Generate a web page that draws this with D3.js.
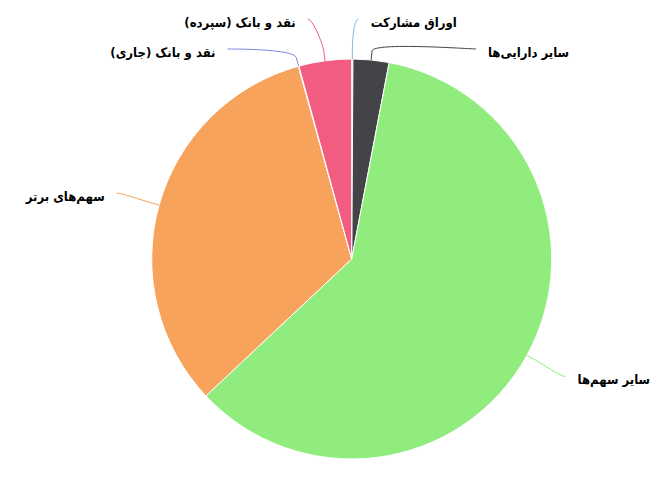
<!DOCTYPE html>
<html>
<head>
<meta charset="utf-8">
<script src="https://cdn.jsdelivr.net/npm/d3@7"></script>
<style>
  body { margin: 0; background: #fff; }
  text { font-family: "DejaVu Sans Condensed", "DejaVu Sans", sans-serif; }
</style>
</head>
<body>
<div id="chart"></div>
<script>
// data
var labels = ["اوراق مشارکت", "سایر دارایی\u200cها", "سایر سهم\u200cها", "سهم\u200cهای برتر", "نقد و بانک (جاری)", "نقد و بانک (سپرده)"];
var values = [0.1, 2.9, 60.0, 32.7, 0.05, 4.25];
var colors = ["#7cb5ec", "#434348", "#90ed7d", "#f7a35c", "#8085e9", "#f15c80"];

var width = 656, height = 489;
var cx = 351.7, cy = 259, r = 200;
var labelDist = 44, breakDist = 9, gap = 30, topY = 19;
var labelNudge = [-37, 0, 0, 0, 0, 0];

var svg = d3.select("#chart").append("svg")
    .attr("width", width)
    .attr("height", height);

var g = svg.append("g").attr("transform", "translate(" + cx + "," + cy + ")");

var pie = d3.pie().sort(null).value(function(d) { return d; });
var arcs = pie(values);
var arc = d3.arc().innerRadius(0).outerRadius(r);

g.selectAll("path.slice")
  .data(arcs)
  .enter().append("path")
    .attr("class", "slice")
    .attr("d", arc)
    .attr("fill", function(d, i) { return colors[i]; })
    .attr("stroke", "#fff")
    .attr("stroke-width", 1)
    .attr("stroke-linejoin", "round");

// label positions, highcharts style
var R = r + labelDist;
var pts = arcs.map(function(d, i) {
  var a = (d.startAngle + d.endAngle) / 2;
  return {
    i: i, a: a,
    right: a < Math.PI,
    ny: -Math.cos(a) * R,
    touch: [Math.sin(a) * r, -Math.cos(a) * r],
    brk: [Math.sin(a) * (r + breakDist), -Math.cos(a) * (r + breakDist)]
  };
});

[true, false].forEach(function(side) {
  var s = pts.filter(function(p) { return p.right === side; })
    .sort(function(a, b) { return a.ny - b.ny; });
  var prev = -Infinity;
  s.forEach(function(p) {
    p.y = Math.max(p.ny, prev + gap, topY - cy);
    prev = p.y;
    var dx = Math.sqrt(Math.max(0, R * R - p.y * p.y));
    p.x = (side ? dx : -dx) + labelNudge[p.i];
  });
});

g.selectAll("path.conn")
  .data(pts)
  .enter().append("path")
    .attr("class", "conn")
    .attr("fill", "none")
    .attr("stroke", function(p) { return colors[p.i]; })
    .attr("stroke-width", 1)
    .attr("d", function(p) {
      var c1x = p.x + (p.right ? -5 : 5);
      return "M" + p.x + "," + p.y +
        "C" + c1x + "," + p.y + " " +
        (2 * p.brk[0] - p.touch[0]) + "," + (2 * p.brk[1] - p.touch[1]) + " " +
        p.brk[0] + "," + p.brk[1] +
        "L" + p.touch[0] + "," + p.touch[1];
    });

g.selectAll("text.lbl")
  .data(pts)
  .enter().append("text")
    .attr("class", "lbl")
    .attr("direction", "rtl")
    .attr("x", function(p) { return p.x + (p.right ? 12 : -12); })
    .attr("y", function(p) { return p.y + 3; })
    .attr("dy", "0.35em")
    .attr("text-anchor", function(p) { return p.right ? "end" : "start"; })
    .style("font-size", "13px")
    .style("font-weight", "bold")
    .attr("fill", "#000")
    .text(function(p) { return labels[p.i]; });
</script>
</body>
</html>
